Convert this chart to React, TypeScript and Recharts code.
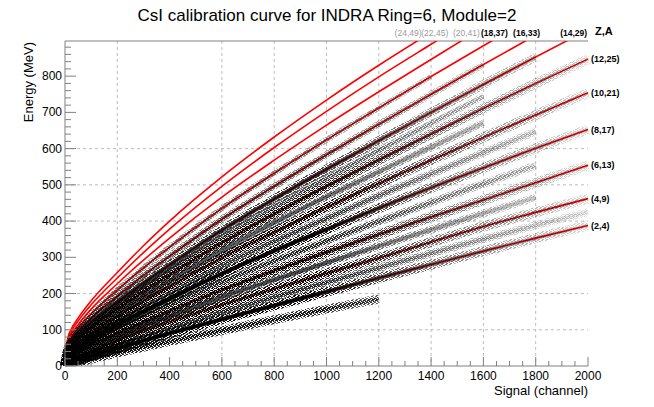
import React from 'react';
import { ComposedChart, Line, XAxis, YAxis, CartesianGrid, ReferenceDot, ReferenceLine } from 'recharts';

const channels = [0, 10, 25, 50, 100, 200, 300, 400, 600, 800, 1000, 1200, 1400, 1600, 1800, 2000];

// red calibration curves, energy (MeV)
const e2_4 = [0, 4, 9, 15, 27, 49, 70, 90, 129, 167, 205, 243, 280, 317, 353, 388];
const e4_9 = [0, 9, 16, 25, 41, 70, 97, 122, 169, 213, 256, 298, 342, 385, 424, 462];
const e6_13 = [0, 17, 26, 38, 58, 91, 122, 152, 210, 263, 314, 363, 411, 458, 506, 554];
const e8_17 = [0, 24, 36, 50, 75, 114, 151, 186, 255, 318, 377, 436, 492, 547, 601, 653];
const e10_21 = [0, 31, 46, 63, 91, 136, 179, 219, 299, 370, 438, 504, 568, 631, 693, 754];
const e12_25 = [0, 38, 56, 75, 106, 158, 206, 252, 340, 420, 496, 569, 640, 711, 780, 847];
const e14_29 = [0, 45, 64, 86, 120, 177, 229, 279, 375, 461, 543, 622, 700, 777, 853, 928];
const e16_33 = [0, 51, 72, 95, 132, 193, 250, 303, 405, 496, 583, 667, 750, 832, 913, 992];
const e18_37 = [0, 57, 80, 105, 144, 210, 271, 328, 435, 532, 624, 712, 799, 884, 967, 1048];
const e20_41 = [0, 64, 88, 114, 157, 227, 292, 353, 466, 568, 665, 757, 846, 934, 1015, 1095];
const e22_45 = [0, 70, 96, 124, 169, 243, 313, 378, 496, 603, 703, 798, 888, 977, 1060, 1143];
const e24_49 = [0, 75, 103, 132, 180, 258, 332, 400, 522, 632, 734, 830, 921, 1010, 1096, 1180];

// centres of the point bands with no red curve (odd Z and hydrogen)
const z1 = [0, 2, 5, 10, 19, 36, 52, 68, 98, 128, 157, 185, 213, 240, 266, 292];
const z3 = [0, 6, 12, 20, 34, 60, 84, 106, 149, 190, 231, 271, 311, 350, 388, 425];
const z5 = [0, 13, 21, 31, 49, 80, 110, 137, 190, 238, 285, 331, 376, 421, 465, 508];
const z7 = [0, 20, 31, 44, 66, 102, 136, 169, 232, 290, 345, 399, 451, 503, 553, 603];
const z9 = [0, 27, 41, 56, 83, 125, 165, 202, 277, 344, 407, 470, 530, 589, 647, 703];
const z11 = [0, 34, 51, 69, 98, 147, 192, 235, 319, 395, 467, 536, 604, 671, 736, 800];
const z13 = [0, 41, 60, 80, 113, 167, 217, 265, 357, 440, 519, 595, 670, 744, 816, 887];

// last channel where each band still has points
const bandSeries = [z1, e2_4, z3, e4_9, z5, e6_13, z7, e8_17, z9, e10_21, z11, e12_25, z13, e14_29, e16_33, e18_37];
const bandEnd = [1200, 2000, 2000, 2000, 1800, 2000, 1800, 2000, 1800, 2000, 1600, 2000, 1600, 1800, 1600, 1400];
const bandWidth = [9, 10, 8, 10, 8, 10, 8, 10, 8, 10, 8, 10, 7, 9, 7, 6];
const bandOpacity = [0.85, 1, 0.75, 1, 0.75, 1, 0.75, 1, 0.7, 1, 0.65, 0.95, 0.55, 0.8, 0.5, 0.35];

const redSeries = [e2_4, e4_9, e6_13, e8_17, e10_21, e12_25, e14_29, e16_33, e18_37, e20_41, e22_45, e24_49];

const rightLabels = ['(2,4)', '(4,9)', '(6,13)', '(8,17)', '(10,21)', '(12,25)'];
const rightLabelEnergy = [e2_4, e4_9, e6_13, e8_17, e10_21, e12_25].map((a) => a[a.length - 1]);

const topLabels = ['(24,49)', '(22,45)', '(20,41)', '(18,37)', '(16,33)', '(14,29)'];
const topLabelChannel = [1312, 1414, 1535, 1642, 1765, 1945];
const topLabelGray = [true, true, true, false, false, false];

const xTicks = Array.from({ length: 41 }, (_, i) => i * 50);
const yTicks = Array.from({ length: 45 }, (_, i) => i * 20);
const gridX = [200, 600, 800, 1000, 1200, 1400, 1600, 1800];
const gridY = [100, 200, 400, 500, 600];

const Y_MAX = 897;

const rows = channels.map((ch, i) => {
  const row: Record<string, number | null> = { ch };
  redSeries.forEach((s, k) => {
    row[`r${k}`] = s[i];
  });
  bandSeries.forEach((s, k) => {
    row[`b${k}`] = ch <= bandEnd[k] ? s[i] : null;
  });
  return row;
});

const FONT = '"Liberation Sans", Arial, Helvetica, sans-serif';
const AXIS = '#808080';

const BottomTick = (props: any) => {
  const { x, y, payload } = props;
  const v = payload.value;
  const major = v % 200 === 0;
  return (
    <g>
      <line x1={x} x2={x} y1={y} y2={y - (major ? 9 : 5)} stroke={AXIS} />
      {major && (
        <text x={x} y={y + 14} textAnchor="middle" fontSize={12} fontFamily={FONT} fill="#000">
          {v}
        </text>
      )}
    </g>
  );
};

const LeftTick = (props: any) => {
  const { x, y, payload } = props;
  const v = payload.value;
  const major = v % 100 === 0;
  return (
    <g>
      <line x1={x} x2={x + (major ? 11 : 6)} y1={y} y2={y} stroke={AXIS} />
      {major && (
        <text x={x - 3} y={y + 4} textAnchor="end" fontSize={12} fontFamily={FONT} fill="#000">
          {v}
        </text>
      )}
    </g>
  );
};

// pixel cells of 4x4 speckle tiles (last one is the dense core)
const speckCells = [
  [[0, 0], [3, 0], [1, 1], [2, 2], [0, 3], [3, 2], [1, 3]],
  [[1, 0], [2, 0], [0, 1], [3, 1], [1, 2], [2, 3], [3, 3]],
  [[2, 0], [0, 0], [1, 1], [3, 2], [0, 2], [2, 2], [1, 3]],
  [[0, 0], [1, 0], [3, 0], [1, 1], [2, 1], [3, 1], [0, 2], [2, 2], [3, 2], [0, 3], [1, 3], [2, 3]],
];

export default function App() {
  return (
    <div style={{ position: 'absolute', left: 0, top: 0, width: 654, height: 407, background: '#fff' }}>
      <style>{'.band path, path.band { mask: url(#fade); }'}</style>
      <ComposedChart width={654} height={407} data={rows} margin={{ top: 41, right: 66, bottom: 0, left: 0 }}>
        <defs>
          {speckCells.map((cells, i) => (
            <pattern key={i} id={`speck${i}`} patternUnits="userSpaceOnUse" width={4} height={4}>
              {cells.map((c, j) => (
                <rect key={j} x={c[0]} y={c[1]} width={1} height={1} fill="#000" shapeRendering="crispEdges" />
              ))}
            </pattern>
          ))}
          <linearGradient id="fadeGrad" gradientUnits="userSpaceOnUse" x1={65} y1={0} x2={588} y2={0}>
            <stop offset="0" stopColor="#ffffff" />
            <stop offset="0.48" stopColor="#f0f0f0" />
            <stop offset="0.7" stopColor="#8a8a8a" />
            <stop offset="1" stopColor="#262626" />
          </linearGradient>
          <mask id="fade" maskUnits="userSpaceOnUse" x={0} y={0} width={654} height={407}>
            <rect x={0} y={0} width={654} height={407} fill="url(#fadeGrad)" />
          </mask>
        </defs>
        <CartesianGrid
          stroke="#bdbdbd"
          strokeDasharray="3 3"
          horizontalValues={gridY}
          verticalValues={gridX}
        />
        <XAxis
          dataKey="ch"
          type="number"
          domain={[0, 2000]}
          ticks={xTicks}
          interval={0}
          height={41}
          tickSize={0}
          tickMargin={0}
          tickLine={false}
          axisLine={{ stroke: AXIS }}
          tick={<BottomTick />}
        />
        <YAxis
          type="number"
          domain={[0, Y_MAX]}
          allowDataOverflow
          ticks={yTicks}
          interval={0}
          width={65}
          tickSize={0}
          tickMargin={0}
          tickLine={false}
          axisLine={{ stroke: AXIS }}
          tick={<LeftTick />}
        />
        <ReferenceLine y={Y_MAX} stroke={AXIS} ifOverflow="visible" />
        {redSeries.map((_, k) => (
          <Line
            key={`r${k}`}
            dataKey={`r${k}`}
            type="monotone"
            stroke="#ff0000"
            strokeWidth={1.6}
            dot={false}
            activeDot={false}
            isAnimationActive={false}
          />
        ))}
        {bandSeries.map((_, k) => (
          <Line
            key={`b${k}`}
            dataKey={`b${k}`}
            type="monotone"
            className="band"
            stroke={`url(#speck${k % 3})`}
            strokeWidth={bandWidth[k]}
            strokeOpacity={bandOpacity[k]}
            dot={false}
            activeDot={false}
            connectNulls={false}
            isAnimationActive={false}
          />
        ))}
        {bandSeries.map((_, k) => (
          <Line
            key={`c${k}`}
            dataKey={`b${k}`}
            type="monotone"
            className="band"
            stroke="url(#speck3)"
            strokeWidth={4}
            strokeOpacity={bandOpacity[k]}
            dot={false}
            activeDot={false}
            connectNulls={false}
            isAnimationActive={false}
          />
        ))}
        {rightLabels.map((txt, i) => (
          <ReferenceDot
            key={txt}
            x={2000}
            y={rightLabelEnergy[i]}
            r={0}
            stroke="none"
            fill="none"
            ifOverflow="visible"
            label={{ value: txt, position: 'right', offset: 3, fontSize: 9, fontWeight: 'bold', fill: '#000', fontFamily: FONT }}
          />
        ))}
        {topLabels.map((txt, i) => (
          <ReferenceDot
            key={txt}
            x={topLabelChannel[i]}
            y={Y_MAX}
            r={0}
            stroke="none"
            fill="none"
            ifOverflow="visible"
            label={{
              value: txt,
              position: 'top',
              offset: 5,
              fontSize: 8.5,
              fontWeight: topLabelGray[i] ? 'normal' : 'bold',
              fill: topLabelGray[i] ? '#9a9a9a' : '#000',
              fontFamily: FONT,
            }}
          />
        ))}
        <text x={327} y={21} textAnchor="middle" fontSize={17} fontFamily={FONT} fill="#000">
          CsI calibration curve for INDRA Ring=6, Module=2
        </text>
        <text x={595} y={35} fontSize={11} fontWeight="bold" fontFamily={FONT} fill="#000">
          Z,A
        </text>
        <text x={588} y={395} textAnchor="end" fontSize={13} fontFamily={FONT} fill="#000">
          Signal (channel)
        </text>
        <text
          x={33}
          y={42}
          textAnchor="end"
          fontSize={13}
          fontFamily={FONT}
          fill="#000"
          transform="rotate(-90 33 42)"
        >
          Energy (MeV)
        </text>
      </ComposedChart>
    </div>
  );
}
